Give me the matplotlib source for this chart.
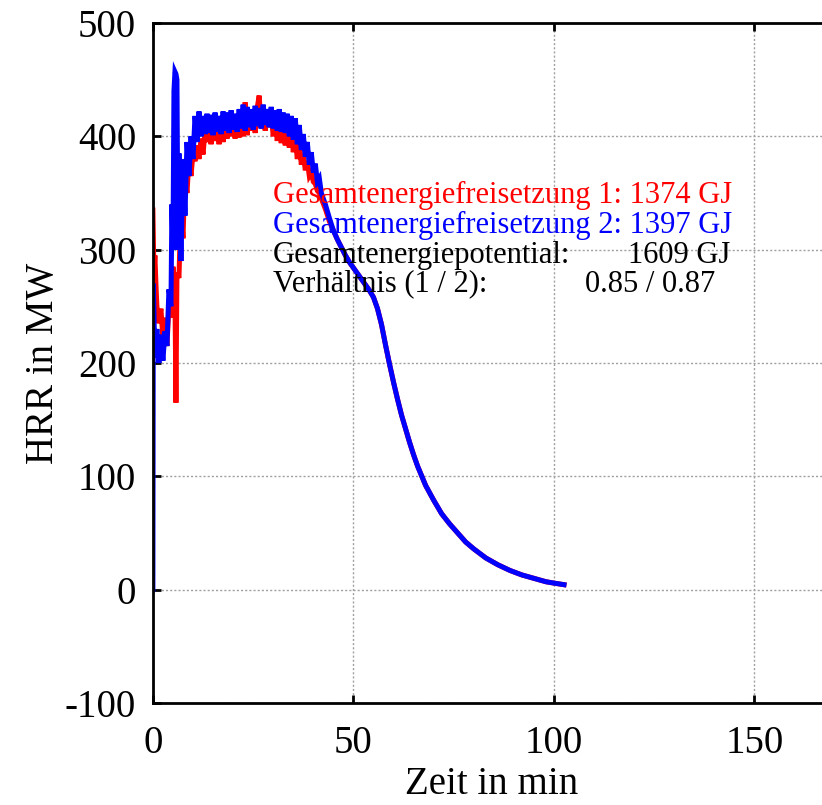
#!/usr/bin/env python3
"""HRR curve of two runs (gnuplot-style) -> out.png"""
import matplotlib
matplotlib.use('Agg')
import matplotlib.pyplot as plt

# ---------------------------------------------------------------------------
# data, time in min, HRR in MW
# ---------------------------------------------------------------------------
t_blue = [0, 0.1, 0.5, 1.0, 1.5, 2.0, 2.5, 3.0, 3.5, 4.0, 4.5, 4.75, 5.0, 5.25, 5.5, 5.75,
          6.0, 6.25, 6.5, 7.0, 7.5, 8.0, 8.5, 9.0, 9.5, 10.0, 10.5, 11.0, 11.5, 12.0, 12.5,
          13.0, 13.5, 14.0, 14.5, 15.0, 15.5, 16.0, 16.5, 17.0, 17.5, 18.0, 18.5, 19.0,
          19.5, 20.0, 20.5, 21.0, 21.5, 22.0, 22.5, 23.0, 23.5, 24.0, 24.5, 25.0, 25.5,
          26.0, 26.5, 27.0, 27.5, 28.0, 28.5, 29.0, 29.5, 30.0, 30.5, 31.0, 31.5, 32.0,
          32.5, 33.0, 33.5, 34.0, 34.5, 35.0, 35.5, 36.0, 36.5, 37.0, 37.5, 38.0, 38.5,
          39.0, 39.5, 40.0, 40.5, 41.0, 41.5, 42.0]
hrr_blue = [0, 270, 205, 230, 200, 225, 202, 228, 215, 265, 250, 340, 300, 440, 457, 455,
            450, 300, 385, 290, 380, 330, 395, 365, 400, 380, 418, 395, 422, 400, 418,
            402, 420, 403, 419, 401, 421, 404, 418, 402, 422, 405, 421, 403,
            423, 406, 420, 404, 424, 407, 428, 405, 426, 408, 424, 406, 427,
            409, 425, 407, 428, 410, 424, 408, 426, 407, 423, 405, 424, 404,
            421, 403, 420, 400, 418, 397, 416, 393, 410, 388, 402, 382, 395,
            375, 386, 368, 376, 360, 363, 350]

t_red = [0, 0.25, 0.5, 0.75, 1.0, 1.5, 2.0, 2.5, 3.0, 3.5, 4.0, 4.5, 5.0, 5.5, 5.75,
         6.0, 6.5, 7.0, 7.5, 8.0, 8.5, 9.0, 9.5, 10.0, 10.5, 11.0, 11.5, 12.0, 12.5,
         13.0, 13.5, 14.0, 14.5, 15.0, 15.5, 16.0, 16.5, 17.0, 17.5, 18.0, 18.5, 19.0,
         19.5, 20.0, 20.5, 21.0, 21.5, 22.0, 22.5, 23.0, 23.5, 24.0, 24.5, 25.0, 25.5,
         26.0, 26.5, 27.0, 27.5, 28.0, 28.5, 29.0, 29.5, 30.0, 30.5, 31.0, 31.5, 32.0,
         32.5, 33.0, 33.5, 34.0, 34.5, 35.0, 35.5, 36.0, 36.5, 37.0, 37.5, 38.0, 38.5,
         39.0, 39.5, 40.0, 40.5, 41.0, 41.5, 42.0, 43.0, 44.0]
hrr_red = [335, 280, 295, 270, 250, 235, 248, 222, 240, 215, 250, 240, 285, 260, 165,
           280, 275, 340, 310, 365, 350, 380, 365, 385, 378, 392, 380, 398, 384,
           405, 395, 410, 393, 408, 396, 412, 393, 410, 395, 413, 398, 415,
           400, 414, 398, 416, 399, 418, 400, 430, 401, 418, 405, 420, 403,
           425, 436, 407, 422, 405, 423, 408, 420, 400, 418, 396, 415, 394,
           413, 392, 410, 390, 406, 386, 400, 380, 395, 375, 385, 370, 378,
           365, 368, 360, 358, 352, 350, 345, 336, 325]

# smooth decay phase, practically identical for both runs
t_decay = [43, 44, 45, 46, 47, 48, 49, 50, 51, 52, 53, 54, 55, 56, 57, 58, 59, 60,
           61, 62, 63, 64, 65, 66, 68, 70, 72, 74, 76, 78, 80, 83, 86, 89, 92, 95,
           98, 100, 102.5]
hrr_decay = [340, 328, 317, 309, 302, 295, 289, 284, 279, 274, 269, 264, 258, 248,
             234, 216, 199, 183, 168, 154, 142, 130, 119, 109, 92, 79, 67, 58, 50,
             42, 36, 28, 22, 17, 13, 10, 7, 5.8, 4.4]

lbl_release = ['Gesamtenergiefreisetzung 1: 1374 GJ', 'Gesamtenergiefreisetzung 2: 1397 GJ']
lbl_potential = ['Gesamtenergiepotential:', '1609 GJ']
lbl_ratio = ['Verhältnis (1 / 2):', '0.85 / 0.87']

plt.rcParams.update({
    'font.family': ['Liberation Serif', 'DejaVu Serif'],
    'font.size': 28, 'axes.linewidth': 2.0, 'axes.unicode_minus': False,
    'xtick.direction': 'in', 'ytick.direction': 'in',
    'xtick.major.size': 6, 'ytick.major.size': 6,
    'xtick.major.width': 2.0, 'ytick.major.width': 2.0,
    'figure.facecolor': 'white',
})

fig = plt.figure(figsize=(8.22, 8.05), dpi=100)
# right part of the frame is cut off by the figure edge, like the original
ax = fig.add_axes([0.186, 0.1267, 0.8236, 0.8447])

RED, BLUE, LW = '#ff0000', '#0000ff', 3.6
ax.plot(t_red + t_decay[2:], hrr_red + hrr_decay[2:], color=RED, lw=LW, solid_joinstyle='miter')
ax.plot(t_blue + t_decay, hrr_blue + hrr_decay, color=BLUE, lw=LW, solid_joinstyle='miter')

ax.set_xlim(0, 168.8)
ax.set_ylim(-100, 500)
ax.set_xticks([0, 50, 100, 150])
ax.set_yticks(range(-100, 501, 100))
ax.tick_params(top=True, right=False, pad=12)
ax.tick_params(axis='x', pad=16)
ax.spines['right'].set_visible(False)
ax.grid(True, color='#a0a0a0', linestyle=(0, (1.5, 1.5)), linewidth=1.0)
ax.set_xlabel('Zeit in min', labelpad=3)
ax.set_ylabel('HRR in MW', labelpad=2)

# annotation block
TS = 22
ax.text(29.9, 341, lbl_release[0], color=RED, fontsize=TS, va='baseline')
ax.text(29.9, 315, lbl_release[1], color=BLUE, fontsize=TS, va='baseline')
ax.text(29.9, 288.5, lbl_potential[0], color='black', fontsize=TS, va='baseline')
ax.text(143.9, 288.5, lbl_potential[1], color='black', fontsize=TS, va='baseline', ha='right')
ax.text(29.9, 263, lbl_ratio[0], color='black', fontsize=TS, va='baseline')
ax.text(140.1, 263, lbl_ratio[1], color='black', fontsize=TS, va='baseline', ha='right')

fig.savefig('out.png', dpi=100)
